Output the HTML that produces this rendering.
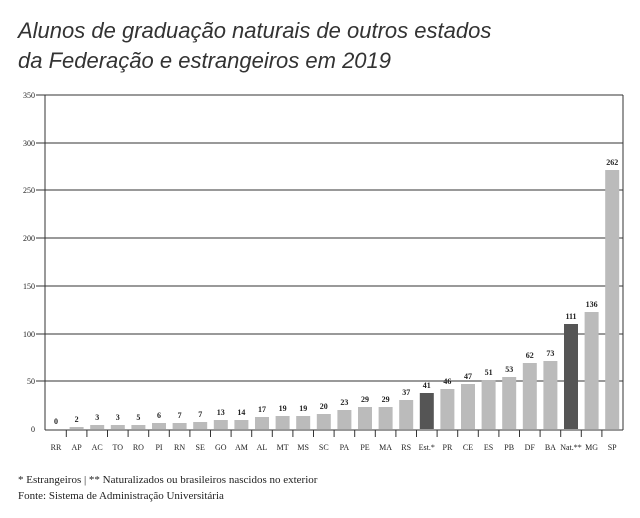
<!DOCTYPE html><html><head><meta charset="utf-8"><style>
body{margin:0;background:#fff;width:640px;height:513px;overflow:hidden}
</style></head><body>
<svg width="640" height="513" xmlns="http://www.w3.org/2000/svg">
<text x="18" y="38" font-family="Liberation Sans, sans-serif" font-style="italic" font-size="22" fill="#333">Alunos de graduação naturais de outros estados</text>
<text x="18" y="68" font-family="Liberation Sans, sans-serif" font-style="italic" font-size="22" fill="#333">da Federação e estrangeiros em 2019</text>
<g stroke="#333" stroke-width="1">
<line x1="36" y1="95" x2="623" y2="95"/><line x1="36" y1="143" x2="623" y2="143"/><line x1="36" y1="190" x2="623" y2="190"/><line x1="36" y1="238" x2="623" y2="238"/><line x1="36" y1="286" x2="623" y2="286"/><line x1="36" y1="334" x2="623" y2="334"/><line x1="36" y1="381" x2="623" y2="381"/>
<line x1="45" y1="95" x2="45" y2="430"/><line x1="623" y1="95" x2="623" y2="430"/><line x1="45" y1="430" x2="623" y2="430"/>
</g>
<g font-family="Liberation Serif, serif" font-size="8" fill="#222" text-anchor="end">
<text x="35" y="98">350</text><text x="35" y="146">300</text><text x="35" y="193">250</text><text x="35" y="241">200</text><text x="35" y="289">150</text><text x="35" y="337">100</text><text x="35" y="384">50</text><text x="35" y="432">0</text>
</g>
<g fill="#bbb">
<rect x="69.6" y="427" width="14" height="2"/>
<rect x="90.2" y="425" width="14" height="4"/>
<rect x="110.8" y="425" width="14" height="4"/>
<rect x="131.4" y="425" width="14" height="4"/>
<rect x="152" y="423" width="14" height="6"/>
<rect x="172.6" y="423" width="14" height="6"/>
<rect x="193.2" y="422" width="14" height="7"/>
<rect x="213.8" y="420" width="14" height="9"/>
<rect x="234.4" y="420" width="14" height="9"/>
<rect x="255" y="417" width="14" height="12"/>
<rect x="275.6" y="416" width="14" height="13"/>
<rect x="296.2" y="416" width="14" height="13"/>
<rect x="316.8" y="414" width="14" height="15"/>
<rect x="337.4" y="410" width="14" height="19"/>
<rect x="358" y="407" width="14" height="22"/>
<rect x="378.6" y="407" width="14" height="22"/>
<rect x="399.2" y="400" width="14" height="29"/>
<rect x="419.8" y="393" width="14" height="36" fill="#555"/>
<rect x="440.4" y="389" width="14" height="40"/>
<rect x="461" y="384" width="14" height="45"/>
<rect x="481.6" y="380" width="14" height="49"/>
<rect x="502.2" y="377" width="14" height="52"/>
<rect x="522.8" y="363" width="14" height="66"/>
<rect x="543.4" y="361" width="14" height="68"/>
<rect x="564" y="324" width="14" height="105" fill="#555"/>
<rect x="584.6" y="312" width="14" height="117"/>
<rect x="605.2" y="170" width="14" height="259"/>
</g>
<g stroke="#333">
<line x1="66.3" y1="430" x2="66.3" y2="437"/><line x1="86.9" y1="430" x2="86.9" y2="437"/><line x1="107.5" y1="430" x2="107.5" y2="437"/><line x1="128.1" y1="430" x2="128.1" y2="437"/><line x1="148.7" y1="430" x2="148.7" y2="437"/><line x1="169.3" y1="430" x2="169.3" y2="437"/><line x1="189.9" y1="430" x2="189.9" y2="437"/><line x1="210.5" y1="430" x2="210.5" y2="437"/><line x1="231.1" y1="430" x2="231.1" y2="437"/><line x1="251.7" y1="430" x2="251.7" y2="437"/><line x1="272.3" y1="430" x2="272.3" y2="437"/><line x1="292.9" y1="430" x2="292.9" y2="437"/><line x1="313.5" y1="430" x2="313.5" y2="437"/><line x1="334.1" y1="430" x2="334.1" y2="437"/><line x1="354.7" y1="430" x2="354.7" y2="437"/><line x1="375.3" y1="430" x2="375.3" y2="437"/><line x1="395.9" y1="430" x2="395.9" y2="437"/><line x1="416.5" y1="430" x2="416.5" y2="437"/><line x1="437.1" y1="430" x2="437.1" y2="437"/><line x1="457.7" y1="430" x2="457.7" y2="437"/><line x1="478.3" y1="430" x2="478.3" y2="437"/><line x1="498.9" y1="430" x2="498.9" y2="437"/><line x1="519.5" y1="430" x2="519.5" y2="437"/><line x1="540.1" y1="430" x2="540.1" y2="437"/><line x1="560.7" y1="430" x2="560.7" y2="437"/><line x1="581.3" y1="430" x2="581.3" y2="437"/><line x1="601.9" y1="430" x2="601.9" y2="437"/>
</g>
<g font-family="Liberation Serif, serif" font-size="8" font-weight="bold" fill="#222" text-anchor="middle">
<text x="56" y="424">0</text><text x="76.6" y="422">2</text><text x="97.2" y="420">3</text><text x="117.8" y="420">3</text><text x="138.4" y="420">5</text><text x="159" y="418">6</text><text x="179.6" y="418">7</text><text x="200.2" y="417">7</text><text x="220.8" y="415">13</text><text x="241.4" y="415">14</text><text x="262" y="412">17</text><text x="282.6" y="411">19</text><text x="303.2" y="411">19</text><text x="323.8" y="409">20</text><text x="344.4" y="405">23</text><text x="365" y="402">29</text><text x="385.6" y="402">29</text><text x="406.2" y="395">37</text><text x="426.8" y="388">41</text><text x="447.4" y="384">46</text><text x="468" y="379">47</text><text x="488.6" y="375">51</text><text x="509.2" y="372">53</text><text x="529.8" y="358">62</text><text x="550.4" y="356">73</text><text x="571" y="319">111</text><text x="591.6" y="307">136</text><text x="612.2" y="165">262</text>
</g>
<g font-family="Liberation Serif, serif" font-size="8" fill="#222" text-anchor="middle">
<text x="56" y="450">RR</text><text x="76.6" y="450">AP</text><text x="97.2" y="450">AC</text><text x="117.8" y="450">TO</text><text x="138.4" y="450">RO</text><text x="159" y="450">PI</text><text x="179.6" y="450">RN</text><text x="200.2" y="450">SE</text><text x="220.8" y="450">GO</text><text x="241.4" y="450">AM</text><text x="262" y="450">AL</text><text x="282.6" y="450">MT</text><text x="303.2" y="450">MS</text><text x="323.8" y="450">SC</text><text x="344.4" y="450">PA</text><text x="365" y="450">PE</text><text x="385.6" y="450">MA</text><text x="406.2" y="450">RS</text><text x="426.8" y="450">Est.*</text><text x="447.4" y="450">PR</text><text x="468" y="450">CE</text><text x="488.6" y="450">ES</text><text x="509.2" y="450">PB</text><text x="529.8" y="450">DF</text><text x="550.4" y="450">BA</text><text x="571" y="450">Nat.**</text><text x="591.6" y="450">MG</text><text x="612.2" y="450">SP</text>
</g>
<text x="18" y="483" font-family="Liberation Serif, serif" font-size="11" fill="#222">* Estrangeiros | ** Naturalizados ou brasileiros nascidos no exterior</text>
<text x="18" y="499" font-family="Liberation Serif, serif" font-size="11" fill="#222">Fonte: Sistema de Administração Universitária</text>
</svg>
</body></html>
